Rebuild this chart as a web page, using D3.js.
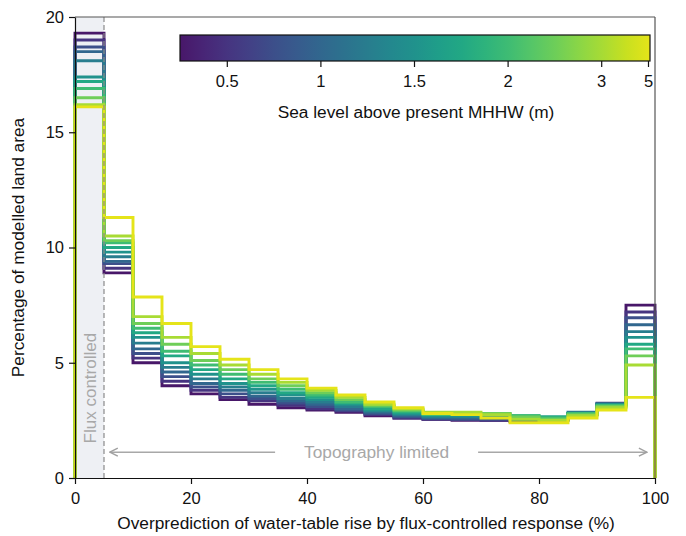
<!DOCTYPE html>
<html><head><meta charset="utf-8">
<script src="https://cdn.jsdelivr.net/npm/d3@7"></script>
<style>
html,body{margin:0;padding:0;background:#fff;}
svg{display:block;font-family:"Liberation Sans",Arial,Helvetica,sans-serif;}
</style></head>
<body><svg id="chart" width="686" height="536"></svg>
<script>
// ---- data ----
const seaLevels = [0.25, 0.5, 0.75, 1, 1.25, 1.5, 1.75, 2, 2.5, 3, 5];
const binStarts = [0, 5, 10, 15, 20, 25, 30, 35, 40, 45, 50, 55, 60, 65, 70, 75, 80, 85, 90, 95];
const s025 = [19.3, 8.9, 5.0, 4.0, 3.65, 3.4, 3.2, 3.05, 2.95, 2.85, 2.7, 2.6, 2.55, 2.5, 2.5, 2.45, 2.5, 2.75, 3.2, 7.5];
const s050 = [19.0, 9.1, 5.2, 4.2, 3.8, 3.5, 3.35, 3.15, 3.0, 2.9, 2.75, 2.6, 2.55, 2.55, 2.5, 2.5, 2.55, 2.75, 3.25, 7.2];
const s075 = [18.7, 9.3, 5.4, 4.4, 3.95, 3.65, 3.45, 3.25, 3.1, 2.95, 2.8, 2.65, 2.6, 2.55, 2.55, 2.5, 2.55, 2.8, 3.2, 6.95];
const s100 = [18.5, 9.4, 5.6, 4.6, 4.1, 3.8, 3.55, 3.35, 3.2, 3.0, 2.85, 2.7, 2.6, 2.6, 2.6, 2.55, 2.6, 2.8, 3.2, 6.65];
const s125 = [18.1, 9.6, 5.85, 4.8, 4.3, 3.95, 3.7, 3.45, 3.3, 3.1, 2.9, 2.75, 2.65, 2.65, 2.65, 2.6, 2.6, 2.85, 3.2, 6.35];
const s150 = [17.4, 9.8, 6.1, 5.0, 4.5, 4.1, 3.85, 3.6, 3.4, 3.2, 2.95, 2.8, 2.7, 2.7, 2.7, 2.65, 2.65, 2.8, 3.2, 6.1];
const s175 = [17.2, 10.0, 6.3, 5.3, 4.7, 4.3, 4.0, 3.7, 3.5, 3.25, 3.0, 2.85, 2.75, 2.75, 2.75, 2.7, 2.65, 2.8, 3.15, 5.8];
const s200 = [16.9, 10.2, 6.5, 5.5, 4.9, 4.5, 4.15, 3.85, 3.6, 3.3, 3.1, 2.9, 2.75, 2.8, 2.8, 2.7, 2.6, 2.8, 3.15, 5.6];
const s250 = [16.5, 10.3, 6.7, 5.8, 5.1, 4.7, 4.3, 4.0, 3.7, 3.4, 3.15, 2.95, 2.8, 2.8, 2.8, 2.65, 2.55, 2.75, 3.1, 5.3];
const s300 = [16.2, 10.5, 7.0, 6.1, 5.4, 4.9, 4.5, 4.15, 3.8, 3.5, 3.2, 3.0, 2.85, 2.85, 2.75, 2.55, 2.5, 2.7, 3.05, 4.9];
const s500 = [16.1, 11.3, 7.85, 6.7, 5.7, 5.15, 4.7, 4.3, 3.9, 3.6, 3.3, 3.05, 2.8, 2.75, 2.6, 2.4, 2.4, 2.6, 2.95, 3.5];
const seriesValues = [s025, s050, s075, s100, s125, s150, s175, s200, s250, s300, s500];
const xTicks = [0, 20, 40, 60, 80, 100];
const yTicks = [0, 5, 10, 15, 20];
const colorbarTicks = [0.5, 1, 1.5, 2, 3, 5];
const binWidth = 5;
const fluxLimit = 5;

// ---- layout ----
const svg = d3.select("#chart");
const L = 75, R = 655, T = 17, B = 478;
const x = d3.scaleLinear().domain([0, 100]).range([L, R]);
const y = d3.scaleLinear().domain([0, 20]).range([B, T]);
const color = t => d3.interpolateViridis(0.06 + 0.9 * t);
const FONT = "Liberation Sans, Arial, sans-serif";

// shaded flux-controlled region
svg.append("rect").attr("x", x(0)).attr("y", y(20)).attr("width", x(fluxLimit) - x(0)).attr("height", y(0) - y(20))
  .attr("fill", "#eef0f4");

// step lines
const line = d3.line().x(d => x(d[0])).y(d => y(d[1])).curve(d3.curveStepAfter);
seriesValues.forEach((vals, i) => {
  const pts = [[binStarts[0], 0]];
  vals.forEach((v, j) => pts.push([binStarts[j], v]));
  pts.push([binStarts[binStarts.length - 1] + binWidth, vals[vals.length - 1]]);
  pts.push([binStarts[binStarts.length - 1] + binWidth, 0]);
  svg.append("path").attr("d", line(pts)).attr("fill", "none")
    .attr("stroke", color(i / (seaLevels.length - 1))).attr("stroke-width", 2.9)
    .attr("stroke-linejoin", "miter");
});

// dashed line at flux limit
svg.append("line").attr("x1", x(fluxLimit)).attr("x2", x(fluxLimit)).attr("y1", y(20)).attr("y2", y(0))
  .attr("stroke", "#8a8a8a").attr("stroke-width", 1.2).attr("stroke-dasharray", "5,3");

// frame (top/right)
svg.append("line").attr("x1", L).attr("x2", R).attr("y1", T).attr("y2", T).attr("stroke", "#555").attr("stroke-width", 1.2);
svg.append("line").attr("x1", R).attr("x2", R).attr("y1", T).attr("y2", B).attr("stroke", "#555").attr("stroke-width", 1.2);

// axes
const xAxis = svg.append("g").attr("transform", `translate(0,${B})`)
  .call(d3.axisBottom(x).tickValues(xTicks).tickSize(6).tickSizeOuter(0).tickFormat(d3.format("d")));
const yAxis = svg.append("g").attr("transform", `translate(${L},0)`)
  .call(d3.axisLeft(y).tickValues(yTicks).tickSize(6).tickSizeOuter(0).tickFormat(d3.format("d")));
[xAxis, yAxis].forEach(g => {
  g.selectAll("text").attr("font-size", 16.5).attr("fill", "#111").attr("font-family", FONT);
  g.select(".domain").attr("stroke", "#111").attr("stroke-width", 1.2);
  g.selectAll(".tick line").attr("stroke", "#111").attr("stroke-width", 1.2);
});
xAxis.selectAll("text").attr("dy", "1.0em");
yAxis.selectAll("text").attr("x", -11);

// axis titles
svg.append("text").attr("x", 366).attr("y", 529).attr("text-anchor", "middle")
  .attr("font-size", 17.3).attr("fill", "#111").text("Overprediction of water-table rise by flux-controlled response (%)");
svg.append("text").attr("transform", `translate(24,${(T + B) / 2}) rotate(-90)`).attr("text-anchor", "middle")
  .attr("font-size", 17.3).attr("fill", "#111").text("Percentage of modelled land area");

// annotations
svg.append("text").attr("transform", `translate(${x(2.5) + 6},${y(3.9)}) rotate(-90)`).attr("text-anchor", "middle")
  .attr("font-size", 17).attr("fill", "#a8a8a8").text("Flux controlled");
const defs = svg.append("defs");
defs.append("marker").attr("id", "ah").attr("viewBox", "0 0 10 10").attr("refX", 9).attr("refY", 5)
  .attr("markerWidth", 10).attr("markerHeight", 10).attr("markerUnits", "userSpaceOnUse").attr("orient", "auto-start-reverse")
  .append("path").attr("d", "M1,1 L9,5 L1,9").attr("fill", "none").attr("stroke", "#a0a0a0").attr("stroke-width", 1.4);
const ay = y(1.12);
svg.append("line").attr("x1", x(6)).attr("x2", x(34.5)).attr("y1", ay).attr("y2", ay)
  .attr("stroke", "#a8a8a8").attr("stroke-width", 1.6).attr("marker-start", "url(#ah)");
svg.append("line").attr("x1", x(69.5)).attr("x2", x(98.6)).attr("y1", ay).attr("y2", ay)
  .attr("stroke", "#a8a8a8").attr("stroke-width", 1.6).attr("marker-end", "url(#ah)");
svg.append("text").attr("x", x(52)).attr("y", ay + 6).attr("text-anchor", "middle")
  .attr("font-size", 17.3).attr("fill", "#a8a8a8").text("Topography limited");

// colorbar
const cbL = 180, cbR = 650, cbT = 35, cbB = 61;
const cbx = d3.scaleLinear().domain([0, seaLevels.length - 1]).range([cbL, cbR - 2]);
const grad = defs.append("linearGradient").attr("id", "cbgrad").attr("x1", "0%").attr("x2", "100%");
d3.range(0, 1.0001, 0.05).forEach(t => grad.append("stop").attr("offset", (t * 100) + "%").attr("stop-color", color(t)));
svg.append("rect").attr("x", cbL).attr("y", cbT).attr("width", cbR - cbL).attr("height", cbB - cbT)
  .attr("fill", "url(#cbgrad)").attr("stroke", "#111").attr("stroke-width", 1.2);
const cbTickIdx = colorbarTicks.map(v => seaLevels.indexOf(v));
const cbAxis = svg.append("g").attr("transform", `translate(0,${cbB})`)
  .call(d3.axisBottom(cbx).tickValues(cbTickIdx).tickSize(6).tickSizeOuter(0).tickFormat(i => String(seaLevels[i])));
cbAxis.select(".domain").remove();
cbAxis.selectAll(".tick line").attr("stroke", "#111").attr("stroke-width", 1.2);
cbAxis.selectAll("text").attr("font-size", 16.5).attr("fill", "#111").attr("dy", "1.0em")
  .attr("font-family", FONT);
svg.append("text").attr("x", 416).attr("y", 118).attr("text-anchor", "middle").attr("font-size", 17.3)
  .attr("fill", "#111").text("Sea level above present MHHW (m)");
</script></body></html>
